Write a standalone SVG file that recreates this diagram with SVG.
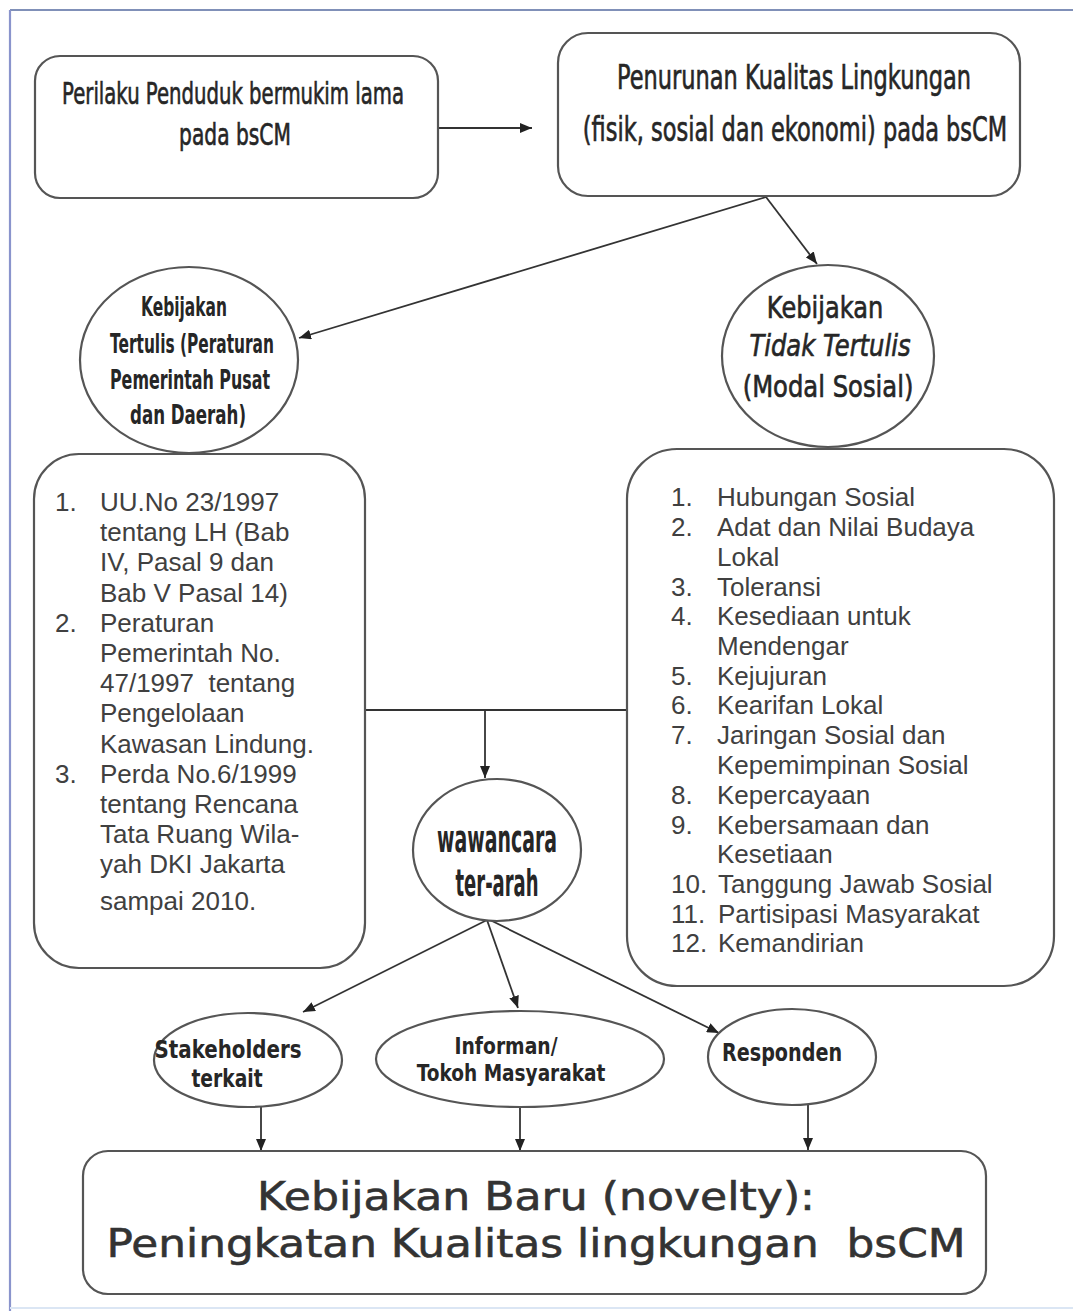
<svg xmlns="http://www.w3.org/2000/svg" width="1073" height="1311" viewBox="0 0 1073 1311">
<style>
  .shape { fill: #ffffff; stroke: #555555; stroke-width: 2.2; }
  .conn { fill: none; stroke: #333333; stroke-width: 1.8; }
  .cond { font-family: "DejaVu Sans", "Liberation Sans", sans-serif; fill: #262626; text-anchor: middle; }
  .reg { stroke: #262626; stroke-width: 0.7; }
  .bold { font-weight: bold; }
  .list { font-family: "Liberation Sans", Arial, sans-serif; font-size: 26px; fill: #404040; }
  .big { font-family: "DejaVu Sans", "Liberation Sans", sans-serif; font-size: 39px; fill: #333333; text-anchor: middle; stroke: #333333; stroke-width: 0.6; }
</style>
<defs>
  <marker id="arr" viewBox="0 0 12 10" refX="12" refY="5" markerWidth="12" markerHeight="10" markerUnits="userSpaceOnUse" orient="auto">
    <path d="M0,0 L12,5 L0,10 Z" fill="#222222"/>
  </marker>
</defs>
<rect x="0" y="0" width="1073" height="1311" fill="#ffffff"/>
<g id="frame">
  <line x1="10" y1="10" x2="1073" y2="10" stroke="#8090b8" stroke-width="2"/>
  <line x1="10" y1="10" x2="10" y2="1311" stroke="#8a94cc" stroke-width="2.2"/>
  <line x1="10" y1="1308" x2="1073" y2="1308" stroke="#dbe6f4" stroke-width="2"/>
</g>

<g id="connectors">
  <line class="conn" x1="438" y1="128" x2="532" y2="128" marker-end="url(#arr)"/>
  <line class="conn" x1="766" y1="197" x2="299" y2="338" marker-end="url(#arr)"/>
  <line class="conn" x1="766" y1="197" x2="817" y2="264" marker-end="url(#arr)"/>
  <line class="conn" x1="365" y1="710" x2="627" y2="710"/>
  <line class="conn" x1="485" y1="710" x2="485" y2="778" marker-end="url(#arr)"/>
  <line class="conn" x1="487" y1="920" x2="303" y2="1012" marker-end="url(#arr)"/>
  <line class="conn" x1="487" y1="920" x2="518" y2="1008" marker-end="url(#arr)"/>
  <line class="conn" x1="490" y1="920" x2="719" y2="1033" marker-end="url(#arr)"/>
  <line class="conn" x1="261" y1="1107" x2="261" y2="1151" marker-end="url(#arr)"/>
  <line class="conn" x1="520" y1="1107" x2="520" y2="1151" marker-end="url(#arr)"/>
  <line class="conn" x1="808" y1="1105" x2="808" y2="1150" marker-end="url(#arr)"/>
</g>

<g id="node-perilaku">
  <rect class="shape" x="35" y="56" width="403" height="142" rx="25" ry="25"/>
  <text class="cond reg" transform="translate(233,104) scale(0.65,1)" font-size="31" textLength="526" lengthAdjust="spacingAndGlyphs">Perilaku Penduduk bermukim lama</text>
  <text class="cond reg" transform="translate(235,145) scale(0.65,1)" font-size="31" textLength="172" lengthAdjust="spacingAndGlyphs">pada bsCM</text>
</g>

<g id="node-penurunan">
  <rect class="shape" x="558" y="33" width="462" height="163" rx="30" ry="30"/>
  <text class="cond reg" transform="translate(794,89) scale(0.64,1)" font-size="34" textLength="553" lengthAdjust="spacingAndGlyphs">Penurunan Kualitas Lingkungan</text>
  <text class="cond reg" transform="translate(795,141) scale(0.64,1)" font-size="34" textLength="663" lengthAdjust="spacingAndGlyphs">(fisik, sosial dan ekonomi) pada bsCM</text>
</g>

<g id="node-tertulis">
  <ellipse class="shape" cx="189" cy="360" rx="109" ry="93"/>
  <text class="cond bold" transform="translate(184,316) scale(0.55,1)" font-size="27" fill="#1c1c30" textLength="156" lengthAdjust="spacingAndGlyphs">Kebijakan</text>
  <text class="cond bold" transform="translate(192,353) scale(0.55,1)" font-size="27" fill="#1c1c30" textLength="298" lengthAdjust="spacingAndGlyphs">Tertulis (Peraturan</text>
  <text class="cond bold" transform="translate(190,389) scale(0.55,1)" font-size="27" fill="#1c1c30" textLength="291" lengthAdjust="spacingAndGlyphs">Pemerintah Pusat</text>
  <text class="cond bold" transform="translate(188,424) scale(0.55,1)" font-size="27" fill="#1c1c30" textLength="211" lengthAdjust="spacingAndGlyphs">dan Daerah)</text>
</g>

<g id="node-tidak-tertulis">
  <ellipse class="shape" cx="828" cy="356" rx="106" ry="91"/>
  <text class="cond reg" transform="translate(825,318) scale(0.68,1)" font-size="31" textLength="171" lengthAdjust="spacingAndGlyphs">Kebijakan</text>
  <text class="cond reg" transform="translate(830,356) scale(0.68,1)" font-size="31" font-style="italic" textLength="237" lengthAdjust="spacingAndGlyphs">Tidak Tertulis</text>
  <text class="cond reg" transform="translate(828,397) scale(0.68,1)" font-size="31" textLength="251" lengthAdjust="spacingAndGlyphs">(Modal Sosial)</text>
</g>

<g id="node-list-tertulis">
  <rect class="shape" x="34" y="454" width="331" height="514" rx="45" ry="45"/>
  <text class="list" x="55" y="511">1.</text>
  <text class="list" x="100" y="511">UU.No 23/1997</text>
  <text class="list" x="100" y="541">tentang LH (Bab</text>
  <text class="list" x="100" y="571">IV, Pasal 9 dan</text>
  <text class="list" x="100" y="602">Bab V Pasal 14)</text>
  <text class="list" x="55" y="632">2.</text>
  <text class="list" x="100" y="632">Peraturan</text>
  <text class="list" x="100" y="662">Pemerintah No.</text>
  <text class="list" x="100" y="692" xml:space="preserve">47/1997  tentang</text>
  <text class="list" x="100" y="722">Pengelolaan</text>
  <text class="list" x="100" y="753">Kawasan Lindung.</text>
  <text class="list" x="55" y="783">3.</text>
  <text class="list" x="100" y="783">Perda No.6/1999</text>
  <text class="list" x="100" y="813">tentang Rencana</text>
  <text class="list" x="100" y="843">Tata Ruang Wila-</text>
  <text class="list" x="100" y="873">yah DKI Jakarta</text>
  <text class="list" x="100" y="910">sampai 2010.</text>
</g>

<g id="node-list-modal">
  <rect class="shape" x="627" y="449" width="427" height="537" rx="50" ry="50"/>
  <text class="list" x="671" y="506">1.</text>
  <text class="list" x="717" y="506">Hubungan Sosial</text>
  <text class="list" x="671" y="536">2.</text>
  <text class="list" x="717" y="536">Adat dan Nilai Budaya</text>
  <text class="list" x="717" y="566">Lokal</text>
  <text class="list" x="671" y="596">3.</text>
  <text class="list" x="717" y="596">Toleransi</text>
  <text class="list" x="671" y="625">4.</text>
  <text class="list" x="717" y="625">Kesediaan untuk</text>
  <text class="list" x="717" y="655">Mendengar</text>
  <text class="list" x="671" y="685">5.</text>
  <text class="list" x="717" y="685">Kejujuran</text>
  <text class="list" x="671" y="714">6.</text>
  <text class="list" x="717" y="714">Kearifan Lokal</text>
  <text class="list" x="671" y="744">7.</text>
  <text class="list" x="717" y="744">Jaringan Sosial dan</text>
  <text class="list" x="717" y="774">Kepemimpinan Sosial</text>
  <text class="list" x="671" y="804">8.</text>
  <text class="list" x="717" y="804">Kepercayaan</text>
  <text class="list" x="671" y="834">9.</text>
  <text class="list" x="717" y="834">Kebersamaan dan</text>
  <text class="list" x="717" y="863">Kesetiaan</text>
  <text class="list" x="671" y="893">10.</text>
  <text class="list" x="718" y="893">Tanggung Jawab Sosial</text>
  <text class="list" x="671" y="923">11.</text>
  <text class="list" x="718" y="923">Partisipasi Masyarakat</text>
  <text class="list" x="671" y="952">12.</text>
  <text class="list" x="718" y="952">Kemandirian</text>
</g>

<g id="node-wawancara">
  <ellipse class="shape" cx="497" cy="850" rx="84" ry="71"/>
  <text class="cond bold" transform="translate(497,852) scale(0.55,1)" font-size="37" textLength="218" lengthAdjust="spacingAndGlyphs">wawancara</text>
  <text class="cond bold" transform="translate(497,896) scale(0.55,1)" font-size="37" textLength="151" lengthAdjust="spacingAndGlyphs">ter-arah</text>
</g>

<g id="node-stakeholders">
  <ellipse class="shape" cx="248" cy="1060" rx="94" ry="47"/>
  <text class="cond bold" transform="translate(228,1058) scale(0.75,1)" font-size="25" textLength="196" lengthAdjust="spacingAndGlyphs">Stakeholders</text>
  <text class="cond bold" transform="translate(227,1087) scale(0.75,1)" font-size="25" textLength="95" lengthAdjust="spacingAndGlyphs">terkait</text>
</g>

<g id="node-informan">
  <ellipse class="shape" cx="520" cy="1059" rx="144" ry="48"/>
  <text class="cond bold" transform="translate(506,1054) scale(0.78,1)" font-size="23" textLength="132" lengthAdjust="spacingAndGlyphs">Informan/</text>
  <text class="cond bold" transform="translate(511,1081) scale(0.78,1)" font-size="23" textLength="242" lengthAdjust="spacingAndGlyphs">Tokoh Masyarakat</text>
</g>

<g id="node-responden">
  <ellipse class="shape" cx="792" cy="1057" rx="84" ry="48"/>
  <text class="cond bold" transform="translate(782,1061) scale(0.78,1)" font-size="25" textLength="154" lengthAdjust="spacingAndGlyphs">Responden</text>
</g>

<g id="node-kebijakan-baru">
  <rect class="shape" x="83" y="1151" width="903" height="143" rx="25" ry="25"/>
  <text class="big" x="536" y="1210" textLength="558" lengthAdjust="spacingAndGlyphs">Kebijakan Baru (novelty):</text>
  <text class="big" x="536" y="1257" textLength="859" lengthAdjust="spacingAndGlyphs" xml:space="preserve">Peningkatan Kualitas lingkungan  bsCM</text>
</g>
</svg>
